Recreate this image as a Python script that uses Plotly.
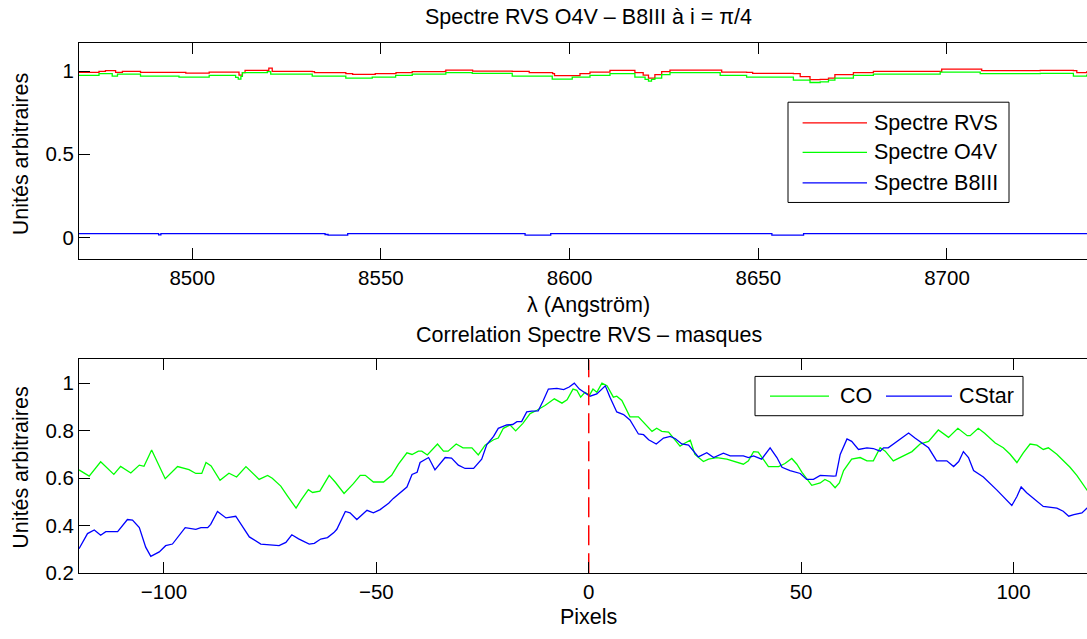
import plotly.graph_objects as go

# ---------------- spectra (top panel) ----------------
lam_rvs = [8470.0, 8475.3, 8477.0, 8479.7, 8481.5, 8486.3, 8492.0, 8498.3, 8504.5, 8511.5,
           8512.4, 8513.3, 8514.0, 8519.5, 8520.3, 8521.2, 8531.8, 8532.4, 8539.0, 8540.7,
           8542.5, 8547.7, 8548.5, 8554.0, 8558.3, 8567.0, 8567.2, 8574.0, 8574.3, 8584.8,
           8589.3, 8595.5, 8596.0, 8601.0, 8602.75, 8605.4, 8610.7, 8617.3, 8619.5, 8620.9,
           8622.6, 8624.4, 8626.6, 8639.9, 8640.3, 8646.9, 8648.5, 8659.3, 8661.1, 8663.7,
           8666.4, 8668.6, 8670.3, 8675.2, 8680.5, 8698.2, 8698.6, 8708.8, 8709.2, 8724.7,
           8733.5, 8734.4, 8737.0, 8740.0]
flux_rvs = [0.992, 0.998, 1.003, 0.992, 0.998, 0.992, 0.992, 0.987, 0.994, 0.994,
            0.975, 0.990, 1.004, 1.004, 1.018, 0.998, 0.996, 0.990, 0.990, 0.984,
            0.980, 0.980, 0.984, 0.990, 0.996, 0.998, 1.006, 1.006, 1.000, 0.998,
            0.990, 0.984, 0.972, 0.972, 0.984, 0.994, 1.004, 0.990, 0.975, 0.958,
            0.978, 0.996, 1.006, 1.006, 0.994, 0.992, 0.986, 0.984, 0.966, 0.948,
            0.950, 0.958, 0.978, 0.990, 0.998, 0.998, 1.012, 1.012, 1.002, 1.004,
            1.002, 0.990, 0.995, 0.995]

lam_o4v = [8470.0, 8475.3, 8478.8, 8480.2, 8486.3, 8496.5, 8504.5, 8511.5, 8512.2, 8512.9,
           8513.3, 8519.9, 8520.8, 8531.8, 8540.7, 8547.7, 8553.9, 8558.3, 8567.2, 8574.2,
           8584.8, 8595.4, 8600.7, 8602.75, 8605.4, 8610.7, 8617.3, 8620.0, 8620.9, 8621.7,
           8622.6, 8624.4, 8626.6, 8639.9, 8646.9, 8659.3, 8663.7, 8666.4, 8668.6, 8670.3,
           8675.2, 8680.5, 8698.2, 8708.8, 8724.7, 8733.5, 8737.0, 8740.0]
flux_o4v = [0.974, 0.984, 0.970, 0.982, 0.970, 0.964, 0.974, 0.962, 0.951, 0.968,
            0.990, 0.996, 0.982, 0.970, 0.958, 0.964, 0.974, 0.982, 0.990, 0.986,
            0.970, 0.951, 0.964, 0.964, 0.974, 0.984, 0.964, 0.950, 0.939, 0.950,
            0.958, 0.978, 0.990, 0.974, 0.964, 0.945, 0.931, 0.935, 0.945, 0.958,
            0.974, 0.982, 0.994, 0.984, 0.986, 0.970, 0.975, 0.975]

lam_b8iii = [8470.0, 8491.1, 8491.7, 8535.2, 8536.0, 8541.2, 8588.2, 8595.0, 8653.6, 8662.0, 8740.0]
flux_b8iii = [0.023, 0.016, 0.023, 0.018, 0.014, 0.023, 0.014, 0.023, 0.014, 0.023, 0.023]

# ---------------- correlation (bottom panel) ----------------
shift_co = [-120.0, -117.6, -114.9, -111.8, -110.2, -107.8, -105.8, -104.7, -102.9, -99.7,
            -96.8, -94.1, -92.5, -91.1, -90.1, -88.9, -86.8, -84.7, -82.9, -80.7,
            -77.6, -75.6, -74.5, -72.5, -70.9, -68.9, -67.7, -66.0, -65.0, -63.3,
            -61.1, -59.7, -57.6, -55.4, -53.8, -52.6, -50.7, -48.3, -46.4, -44.8,
            -42.8, -41.6, -40.1, -39.3, -38.0, -35.6, -34.2, -33.1, -31.2, -29.6,
            -27.5, -26.0, -24.4, -22.4, -21.3, -20.1, -18.5, -17.2, -15.5, -13.8,
            -12.2, -10.3, -8.1, -6.3, -5.1, -3.7, -2.8, -1.9, -0.9, 0.2,
            1.0, 1.9, 3.1, 4.3, 5.8, 6.6, 7.8, 9.7, 11.7, 13.7,
            14.9, 16.0, 17.2, 18.8, 20.3, 21.5, 22.7, 23.9, 25.0, 27.0,
            28.2, 30.1, 32.5, 34.0, 36.4, 37.6, 38.8, 39.9, 41.1, 42.3,
            44.7, 46.2, 47.8, 49.0, 50.2, 52.5, 54.5, 55.6, 56.8, 58.0,
            59.0, 60.0, 61.9, 63.9, 65.5, 67.0, 68.6, 69.8, 71.7, 74.1,
            76.1, 78.0, 80.0, 82.3, 84.7, 86.9, 89.1, 89.8, 91.7, 93.2,
            95.7, 97.6, 99.2, 100.8, 102.3, 103.9, 105.5, 107.0, 108.2, 110.2,
            113.3, 114.9, 117.3, 118.0]
corr_co = [0.635, 0.609, 0.669, 0.616, 0.650, 0.622, 0.655, 0.650, 0.719, 0.598,
           0.649, 0.636, 0.620, 0.620, 0.666, 0.652, 0.591, 0.621, 0.605, 0.649,
           0.595, 0.612, 0.600, 0.567, 0.525, 0.474, 0.509, 0.552, 0.540, 0.546,
           0.612, 0.584, 0.536, 0.577, 0.612, 0.612, 0.584, 0.584, 0.612, 0.659,
           0.707, 0.700, 0.714, 0.714, 0.698, 0.744, 0.714, 0.714, 0.744, 0.728,
           0.728, 0.698, 0.739, 0.762, 0.769, 0.810, 0.824, 0.799, 0.831, 0.872,
           0.886, 0.906, 0.934, 0.916, 0.930, 0.975, 0.970, 0.941, 0.961, 0.950,
           0.975, 0.962, 1.000, 0.989, 0.941, 0.945, 0.927, 0.858, 0.858, 0.817,
           0.797, 0.810, 0.797, 0.794, 0.762, 0.735, 0.748, 0.760, 0.700, 0.670,
           0.680, 0.687, 0.680, 0.673, 0.659, 0.673, 0.712, 0.710, 0.680, 0.649,
           0.649, 0.662, 0.683, 0.659, 0.625, 0.570, 0.580, 0.595, 0.584, 0.560,
           0.580, 0.632, 0.680, 0.687, 0.673, 0.673, 0.728, 0.714, 0.673, 0.694,
           0.712, 0.744, 0.755, 0.803, 0.772, 0.810, 0.779, 0.779, 0.810, 0.789,
           0.748, 0.728, 0.701, 0.666, 0.707, 0.744, 0.739, 0.721, 0.728, 0.701,
           0.646, 0.612, 0.550, 0.540]

shift_cstar = [-120.0, -118.0, -116.4, -114.9, -113.7, -110.9, -108.6, -107.4, -105.8, -104.3,
               -103.1, -101.1, -99.6, -98.0, -95.0, -92.5, -91.3, -89.7, -89.0, -87.4,
               -85.4, -83.1, -79.9, -77.2, -72.9, -71.3, -69.9, -68.3, -65.8, -64.6,
               -63.1, -61.5, -60.0, -59.3, -57.3, -56.2, -54.6, -52.2, -50.7, -49.1,
               -47.1, -46.0, -42.8, -41.6, -40.4, -39.7, -37.7, -36.2, -33.8, -32.3,
               -30.7, -29.1, -27.1, -25.2, -24.0, -22.4, -21.3, -19.3, -17.9, -16.9,
               -15.8, -14.6, -13.4, -11.9, -10.7, -9.5, -7.5, -5.9, -4.6, -3.4,
               -2.2, 0.3, 1.9, 3.9, 5.0, 6.6, 8.2, 9.7, 11.7, 12.9,
               14.1, 15.9, 17.6, 19.2, 20.4, 21.9, 23.5, 25.8, 27.8, 29.4,
               31.7, 33.3, 36.4, 37.6, 38.8, 40.7, 42.7, 44.3, 45.5, 47.4,
               49.8, 51.3, 52.9, 54.5, 57.6, 58.2, 59.2, 60.8, 61.9, 63.5,
               65.5, 67.0, 68.6, 69.4, 70.5, 72.5, 75.3, 76.8, 78.4, 80.0,
               81.9, 84.3, 85.9, 87.1, 88.2, 89.4, 90.6, 92.9, 96.1, 97.6,
               99.6, 100.8, 101.8, 103.1, 104.7, 107.0, 110.2, 111.7, 113.0, 114.2,
               116.1, 117.3, 118.0]
corr_cstar = [0.303, 0.367, 0.382, 0.360, 0.375, 0.375, 0.426, 0.424, 0.392, 0.310,
              0.271, 0.290, 0.316, 0.323, 0.392, 0.385, 0.392, 0.392, 0.406, 0.460,
              0.433, 0.440, 0.353, 0.323, 0.316, 0.330, 0.362, 0.345, 0.323, 0.326,
              0.344, 0.350, 0.371, 0.385, 0.460, 0.454, 0.426, 0.465, 0.454, 0.468,
              0.495, 0.515, 0.563, 0.616, 0.625, 0.666, 0.687, 0.635, 0.687, 0.685,
              0.655, 0.641, 0.641, 0.680, 0.742, 0.776, 0.810, 0.824, 0.826, 0.838,
              0.838, 0.879, 0.882, 0.883, 0.927, 0.975, 0.978, 0.973, 0.984, 1.000,
              0.975, 0.945, 0.955, 0.989, 0.941, 0.879, 0.868, 0.845, 0.786, 0.783,
              0.762, 0.744, 0.769, 0.776, 0.766, 0.744, 0.739, 0.690, 0.707, 0.687,
              0.705, 0.694, 0.694, 0.687, 0.694, 0.680, 0.728, 0.687, 0.646, 0.632,
              0.620, 0.595, 0.595, 0.612, 0.609, 0.610, 0.700, 0.765, 0.755, 0.721,
              0.728, 0.725, 0.714, 0.728, 0.728, 0.755, 0.790, 0.769, 0.748, 0.728,
              0.673, 0.673, 0.649, 0.670, 0.712, 0.687, 0.632, 0.605, 0.550, 0.523,
              0.485, 0.523, 0.563, 0.539, 0.516, 0.481, 0.474, 0.461, 0.440, 0.447,
              0.454, 0.474, 0.480]

top_xticks = [8500, 8550, 8600, 8650, 8700]
top_yticks = [0, 0.5, 1]
bot_xticks = [-100, -50, 0, 50, 100]
bot_yticks = [0.2, 0.4, 0.6, 0.8, 1]

W, H = 1087, 639
FONT = "Liberation Sans, Arial, Helvetica, sans-serif"
RED, GREEN, BLUE = "#ff0000", "#00ff00", "#0000ff"


def fx(x):
    return x / W


def fy(y):
    return 1 - y / H


fig = go.Figure()

fig.add_trace(go.Scatter(x=lam_rvs, y=flux_rvs, mode="lines", line=dict(color=RED, width=1.3, shape="hv"),
                         name="Spectre RVS", xaxis="x", yaxis="y"))
fig.add_trace(go.Scatter(x=lam_o4v, y=flux_o4v, mode="lines", line=dict(color=GREEN, width=1.3, shape="hv"),
                         name="Spectre O4V", xaxis="x", yaxis="y"))
fig.add_trace(go.Scatter(x=lam_b8iii, y=flux_b8iii, mode="lines", line=dict(color=BLUE, width=1.3, shape="hv"),
                         name="Spectre B8III", xaxis="x", yaxis="y"))

fig.add_trace(go.Scatter(x=shift_co, y=corr_co, mode="lines", line=dict(color=GREEN, width=1.3),
                         name="CO", xaxis="x2", yaxis="y2"))
fig.add_trace(go.Scatter(x=shift_cstar, y=corr_cstar, mode="lines", line=dict(color=BLUE, width=1.3),
                         name="CStar", xaxis="x2", yaxis="y2"))
# zero-shift marker
fig.add_trace(go.Scatter(x=[0, 0], y=[0.2, 1.1], mode="lines",
                         line=dict(color=RED, width=1.5, dash="20px,8px"),
                         showlegend=False, xaxis="x2", yaxis="y2"))

axis_common = dict(showgrid=False, zeroline=False, showline=True, linecolor="black", linewidth=1,
                   ticks="inside", ticklen=11, tickwidth=1, tickcolor="black",
                   tickfont=dict(family=FONT, size=20.5, color="black"))

fig.update_layout(
    width=W, height=H, margin=dict(l=0, r=0, t=0, b=0),
    paper_bgcolor="white", plot_bgcolor="white", showlegend=False,
    xaxis=dict(domain=[fx(79), 1], range=[8470, 8737.1], tickvals=top_xticks,
               mirror="ticks", anchor="y", **axis_common),
    yaxis=dict(domain=[fy(264), fy(44)], range=[-0.132, 1.167], tickvals=top_yticks,
               ticktext=["0", "0.5", "1"], anchor="x", **axis_common),
    xaxis2=dict(domain=[fx(79), 1], range=[-120, 117.3], tickvals=bot_xticks,
                mirror="ticks", anchor="y2", **axis_common),
    yaxis2=dict(domain=[fy(583.3), fy(365.7)], range=[0.2, 1.1], tickvals=bot_yticks,
                ticktext=["0.2", "0.4", "0.6", "0.8", "1"], anchor="x2", **axis_common),
)

text_font = dict(family=FONT, size=21.5, color="black")
labels = [
    (588.5, 17, "Spectre RVS O4V \u2013 B8III à i = \u03c0/4", 0),
    (588.5, 310, "\u03bb (Angström)", 0),
    (588.5, 341, "Correlation Spectre RVS \u2013 masques", 0),
    (588.5, 628, "Pixels", 0),
    (21, 157, "Unités arbitraires", -90),
    (21, 476, "Unités arbitraires", -90),
]
for x, y, t, ang in labels:
    fig.add_annotation(x=fx(x), y=fy(y), xref="paper", yref="paper", text=t, showarrow=False,
                       xanchor="center", yanchor="middle", textangle=ang, font=text_font)

# legend boxes drawn in page coordinates
def legend_box(x0, y0, x1, y1):
    fig.add_shape(type="rect", xref="paper", yref="paper", x0=fx(x0), x1=fx(x1), y0=fy(y1), y1=fy(y0),
                  line=dict(color="black", width=1), fillcolor="white", layer="above")


def legend_item(x0, x1, y, color, label, tx):
    fig.add_shape(type="line", xref="paper", yref="paper", x0=fx(x0), x1=fx(x1), y0=fy(y), y1=fy(y),
                  line=dict(color=color, width=1.3), layer="above")
    fig.add_annotation(x=fx(tx), y=fy(y), xref="paper", yref="paper", text=label, showarrow=False,
                       xanchor="left", yanchor="middle", font=text_font)


legend_box(788, 104, 1009, 206)
legend_item(802.6, 867, 125, RED, "Spectre RVS", 872)
legend_item(802.6, 867, 155, GREEN, "Spectre O4V", 872)
legend_item(802.6, 867, 186, BLUE, "Spectre B8III", 872)

legend_box(755, 383, 1023, 423)
legend_item(770, 829, 403, GREEN, "CO", 838)
legend_item(886, 952, 403, BLUE, "CStar", 957)

fig.write_html("out.html")
